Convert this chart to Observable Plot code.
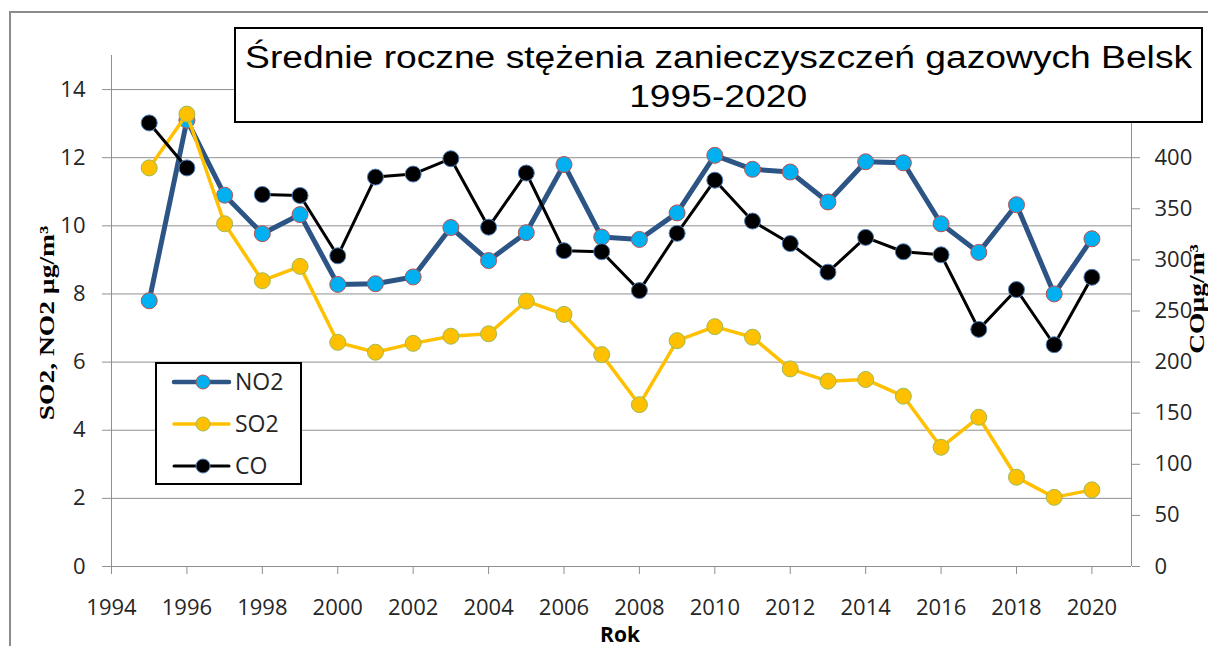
<!DOCTYPE html>
<html><head><meta charset="utf-8">
<script src="https://cdn.jsdelivr.net/npm/d3@7"></script>
<script src="https://cdn.jsdelivr.net/npm/@observablehq/plot@0.6"></script>
<style>
html,body{margin:0;padding:0;background:#fff;}
body{width:1208px;height:646px;overflow:hidden;position:relative;font-family:"Open Sans",sans-serif;}
#frame{position:absolute;left:9px;top:11px;width:1400px;height:1000px;border:2px solid #8c8c8c;}
#chart{position:absolute;left:0;top:0;}
#title{position:absolute;left:234px;top:27px;width:969px;height:96px;box-sizing:border-box;border:2.5px solid #000;background:#fff;text-align:center;font-family:"Liberation Sans",Arial,sans-serif;font-size:31px;line-height:39px;padding-top:9px;color:#000;}
#title span{display:inline-block;transform:scaleX(1.2);transform-origin:50% 50%;}
#legend{position:absolute;left:155px;top:362px;width:147px;height:123px;box-sizing:border-box;border:2px solid #000;background:#fff;}
.ytitle{position:absolute;font-family:"Liberation Serif","Times New Roman",serif;font-weight:bold;font-size:22px;white-space:nowrap;color:#000;}
#xlabel{position:absolute;left:620px;top:643px;transform:translate(-50%,-100%);font-family:"Open Sans",sans-serif;font-weight:bold;font-size:21px;line-height:0.75;color:#000;}
</style></head><body>
<div id="frame"></div>
<div id="chart"></div>
<div id="title"><span>Średnie roczne stężenia zanieczyszczeń gazowych Belsk</span><br><span>1995-2020</span></div>
<div id="legend"></div>
<div class="ytitle" id="ytl" style="left:47px;top:323px;transform:translate(-50%,-50%) rotate(-90deg) scaleX(1.25);">SO2, NO2 µg/m³</div>
<div class="ytitle" id="ytr" style="left:1197px;top:299px;transform:translate(-50%,-50%) rotate(-90deg) scaleX(1.25);">COµg/m³</div>
<div id="xlabel">Rok</div>
<script>
const years = [1995,1996,1997,1998,1999,2000,2001,2002,2003,2004,2005,2006,2007,2008,2009,2010,2011,2012,2013,2014,2015,2016,2017,2018,2019,2020];
const no2 = [7.8,13.1,10.9,9.77,10.33,8.28,8.3,8.5,9.95,8.98,9.8,11.8,9.67,9.6,10.38,12.07,11.66,11.58,10.7,11.88,11.85,10.06,9.22,10.62,8.0,9.62];
const so2 = [11.7,13.28,10.06,8.39,8.81,6.58,6.29,6.55,6.76,6.83,7.79,7.4,6.22,4.75,6.63,7.04,6.73,5.8,5.44,5.49,5.0,3.5,4.38,2.62,2.03,2.25];
const co  = [434,390,null,364,363,304,381,384,399,332,385,309,308,270,326,378,338,316,288,322,308,305,232,271,217,283];
const leftTicks = [0,2,4,6,8,10,12,14];
const rightTicks = [0,50,100,150,200,250,300,350,400];
const xTicks = [1994,1996,1998,2000,2002,2004,2006,2008,2010,2012,2014,2016,2018,2020];
const seriesNames = ["NO2","SO2","CO"];

// secondary axis: 400 on CO axis aligns with 12 on the left axis
const k = 12/400;
const xMax = 2021.05;
const rows = years.map((yr,i)=>({year:yr,no2:no2[i],so2:so2[i],co:co[i]==null?null:co[i]*k}));

const C = {
  no2:{line:"#2C5586",fill:"#00B0F0",stroke:"#C0504D",w:5},
  so2:{line:"#FFC000",fill:"#FFC000",stroke:"#9BBB59",w:3.5},
  co:{line:"#000000",fill:"#000000",stroke:"#4F81BD",w:3}
};
const grid = "#8f8f8f";

const plot = Plot.plot({
  width:1208, height:646,
  marginLeft:111, marginRight:77, marginTop:55, marginBottom:80,
  x:{domain:[1994,xMax]},
  y:{domain:[0,15]},
  style:{fontFamily:"Open Sans, sans-serif", fontSize:"22px", color:"#262626", background:"transparent", overflow:"visible"},
  marks:[
    Plot.ruleY(leftTicks,{stroke:grid,strokeWidth:1}),
    Plot.ruleX([1994],{stroke:grid,strokeWidth:1}),
    Plot.ruleX([xMax],{stroke:grid,strokeWidth:1}),
    Plot.axisY(leftTicks,{anchor:"left",tickSize:9,tickPadding:17,label:null,stroke:grid}),
    Plot.axisY(rightTicks.map(v=>v*k),{anchor:"right",tickSize:8,tickPadding:15,label:null,stroke:grid,tickFormat:d=>String(Math.round(d/k))}),
    Plot.axisX(xTicks,{anchor:"bottom",tickSize:8,tickPadding:25,label:null,stroke:grid,tickFormat:d=>String(d)}),
    Plot.line(rows,{x:"year",y:"no2",stroke:C.no2.line,strokeWidth:C.no2.w,strokeLinejoin:"round"}),
    Plot.dot(rows,{x:"year",y:"no2",r:8,fill:C.no2.fill,stroke:C.no2.stroke,strokeWidth:1}),
    Plot.line(rows,{x:"year",y:"so2",stroke:C.so2.line,strokeWidth:C.so2.w,strokeLinejoin:"round"}),
    Plot.dot(rows,{x:"year",y:"so2",r:8,fill:C.so2.fill,stroke:C.so2.stroke,strokeWidth:1}),
    Plot.line(rows,{x:"year",y:"co",stroke:C.co.line,strokeWidth:C.co.w,strokeLinejoin:"round"}),
    Plot.dot(rows,{x:"year",y:"co",r:8,fill:C.co.fill,stroke:C.co.stroke,strokeWidth:1})
  ]
});
document.getElementById("chart").appendChild(plot);

// legend
const keys = ["no2","so2","co"];
const lg = d3.select("#legend").append("svg").attr("width",143).attr("height",119)
  .style("position","absolute").style("left","0px").style("top","0px");
keys.forEach((key,i)=>{
  const cy = 18 + i*42;
  const g = lg.append("g");
  g.append("line").attr("x1",17).attr("x2",72).attr("y1",cy).attr("y2",cy)
    .attr("stroke",C[key].line).attr("stroke-width",Math.min(C[key].w,4.5)).attr("stroke-linecap","round");
  g.append("circle").attr("cx",46).attr("cy",cy).attr("r",7)
    .attr("fill",C[key].fill).attr("stroke",C[key].stroke).attr("stroke-width",1);
  g.append("text").attr("x",78).attr("y",cy).attr("dy","0.36em")
    .attr("font-family","Open Sans, sans-serif").attr("font-size",23).attr("fill","#262626")
    .text(seriesNames[i]);
});
</script>
</body></html>
